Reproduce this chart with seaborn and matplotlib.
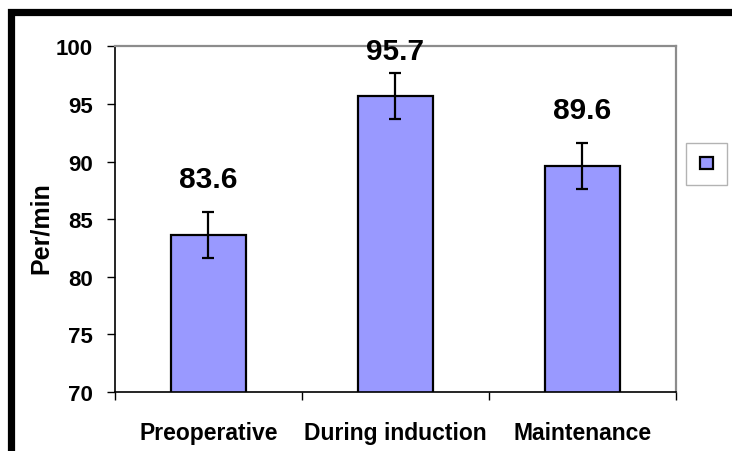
import matplotlib
matplotlib.use("Agg")
import matplotlib.pyplot as plt
import seaborn as sns
import pandas as pd
from matplotlib.patches import Patch, Rectangle

CATEGORIES = ["Preoperative", "During induction", "Maintenance"]
MEANS = [83.6, 95.7, 89.6]
ERRORS = [2.0, 2.0, 2.0]
Y_TICKS = [70, 75, 80, 85, 90, 95, 100]

BAR_COLOR = "#9999FF"


def main():
    sns.set_style("white")
    plt.rcParams["font.family"] = ["Liberation Sans", "DejaVu Sans"]
    plt.rcParams["font.weight"] = "bold"
    for key in ["text.color", "axes.labelcolor", "xtick.color", "ytick.color"]:
        plt.rcParams[key] = "black"

    df = pd.DataFrame({"phase": CATEGORIES, "rate": MEANS})

    fig = plt.figure(figsize=(7.32, 4.52), dpi=100)
    ax = fig.add_axes([0.157, 0.1305, 0.7665, 0.7645])

    sns.barplot(data=df, x="phase", y="rate", color=BAR_COLOR, width=0.4,
                edgecolor="black", linewidth=1.6, saturation=1, ax=ax)
    xs = list(range(len(CATEGORIES)))
    ax.errorbar(xs, MEANS, yerr=ERRORS, fmt="none", ecolor="black",
                elinewidth=1.6, capsize=4.5, capthick=1.6, zorder=5)

    for x, m, e in zip(xs, MEANS, ERRORS):
        ax.text(x, min(m + e + 2.9, 99.6), f"{m:.1f}", ha="center", va="center",
                fontsize=21.5, fontweight="bold", color="black", clip_on=False, zorder=6)

    ax.set_ylim(70, 100)
    ax.set_xlim(-0.5, len(CATEGORIES) - 0.5)
    ax.set_yticks(Y_TICKS)
    ax.set_yticklabels([str(t) for t in Y_TICKS], fontsize=16, fontweight="bold")
    ax.tick_params(axis="y", direction="out", length=6, width=1, color="black", pad=10, left=True)
    ax.set_xticks(xs)
    ax.set_xticklabels(CATEGORIES, fontsize=16.5, fontweight="bold")
    ax.tick_params(axis="x", which="major", length=0, pad=21)
    ax.set_xticks([x - 0.5 for x in xs] + [xs[-1] + 0.5], minor=True)
    ax.tick_params(axis="x", which="minor", direction="out", length=6, width=1,
                   color="black", bottom=True)

    ax.set_xlabel("")
    ax.set_ylabel("Per/min", fontsize=18, fontweight="bold")
    ax.yaxis.set_label_coords(-0.1105, 0.476)

    for side in ["left", "bottom"]:
        ax.spines[side].set_color("black")
        ax.spines[side].set_linewidth(1.2)
    for side in ["top", "right"]:
        ax.spines[side].set_color("#8c8c8c")
        ax.spines[side].set_linewidth(1.6)

    handle = Patch(facecolor=BAR_COLOR, edgecolor="black", linewidth=1.6)
    leg = fig.legend([handle], [""], loc="center", bbox_to_anchor=(706.5 / 732, 1 - 165 / 452),
                     fontsize=10, handlelength=1.0, handleheight=1.0, handletextpad=0,
                     borderpad=1.0, borderaxespad=0, fancybox=False, frameon=True)
    leg.get_frame().set_edgecolor("#a0a0a0")
    leg.get_frame().set_linewidth(1.0)

    frame = Rectangle((11 / 732, -0.1), 1.2, 1.1 - 13.5 / 452, transform=fig.transFigure,
                      fill=False, edgecolor="black", linewidth=5.2, zorder=10)
    fig.add_artist(frame)

    fig.savefig("out.png", dpi=100)
    plt.close(fig)


if __name__ == "__main__":
    main()
